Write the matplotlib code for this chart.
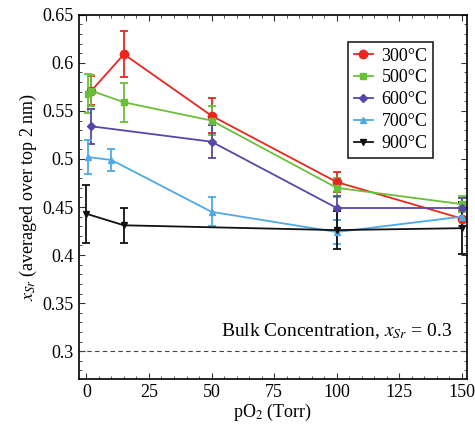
import matplotlib.pyplot as plt
from matplotlib.ticker import MultipleLocator

plt.rcParams['font.family'] = ['Liberation Serif', 'DejaVu Serif']
plt.rcParams['mathtext.fontset'] = 'stix'

#%% data
labels = ['300°C', '500°C', '600°C', '700°C', '900°C']
colors = ['#e8271f', '#6abf3a', '#5548a8', '#4ea9e6', '#111111']
markers = ['o', 's', 'D', '^', 'v']
msizes = [6, 5, 4, 5, 5]

x300 = [2, 15, 50, 100, 150]
y300 = [0.571, 0.609, 0.545, 0.476, 0.438]
e300 = [0.015, 0.024, 0.018, 0.010, 0.008]

x500 = [0.5, 2, 15, 50, 100, 150]
y500 = [0.568, 0.571, 0.559, 0.540, 0.470, 0.453]
e500 = [0.020, 0.016, 0.020, 0.015, 0.010, 0.008]

x600 = [2, 50, 100, 150]
y600 = [0.534, 0.518, 0.449, 0.449]
e600 = [0.018, 0.017, 0.012, 0.010]

x700 = [0.5, 10, 50, 100, 150]
y700 = [0.502, 0.499, 0.445, 0.424, 0.440]
e700 = [0.018, 0.011, 0.015, 0.012, 0.010]

x900 = [0, 15, 100, 150]
y900 = [0.443, 0.431, 0.426, 0.428]
e900 = [0.030, 0.018, 0.020, 0.027]

series = [(x300, y300, e300), (x500, y500, e500), (x600, y600, e600),
          (x700, y700, e700), (x900, y900, e900)]
bulk = 0.3

#%% plot
fig = plt.figure(figsize=(4.75, 4.24), dpi=100)
ax = fig.add_axes([0.166, 0.106, 0.817, 0.859])

handles = []
for (x, y, e), lab, c, m, ms in zip(series, labels, colors, markers, msizes):
    eb = ax.errorbar(x, y, yerr=e, color=c, marker=m, ms=ms, lw=1.3,
                     elinewidth=1.3, capsize=3, capthick=1.3, label=lab)
    handles.append(eb[0])

ax.axhline(bulk, color='#444444', ls='--', lw=0.8, dashes=(4, 3))
ax.text(146, 0.311, r'Bulk Concentration, $x_{Sr}$ = 0.3', ha='right',
        va='bottom', fontsize=14)

ax.set_xlim(-3, 152)
ax.set_ylim(0.271, 0.65)
ax.xaxis.set_major_locator(MultipleLocator(25))
ax.xaxis.set_minor_locator(MultipleLocator(5))
ax.yaxis.set_major_locator(MultipleLocator(0.05))
ax.yaxis.set_minor_locator(MultipleLocator(0.01))
ax.yaxis.set_major_formatter(plt.FuncFormatter(lambda v, p: f'{v:g}'))
ax.tick_params(which='both', direction='in', top=True, right=True,
               labelsize=13, color='#333333')
ax.tick_params(which='major', length=4)
ax.tick_params(which='minor', length=2)
for s in ax.spines.values():
    s.set_linewidth(1.2)

ax.set_xlabel(r'pO$_2$ (Torr)', fontsize=13, labelpad=1)
ax.set_ylabel(r'$x_{Sr}$ (averaged over top 2 nm)', fontsize=13, labelpad=3)

leg = ax.legend(handles, labels, loc='upper right',
                bbox_to_anchor=(0.932, 0.946), fontsize=13,
                fancybox=False, edgecolor='#222222', handlelength=1.1,
                handletextpad=0.45, borderpad=0.32, labelspacing=0.27,
                borderaxespad=0.4, framealpha=1)
leg.get_frame().set_linewidth(1.2)

fig.savefig('out.png', dpi=100)
